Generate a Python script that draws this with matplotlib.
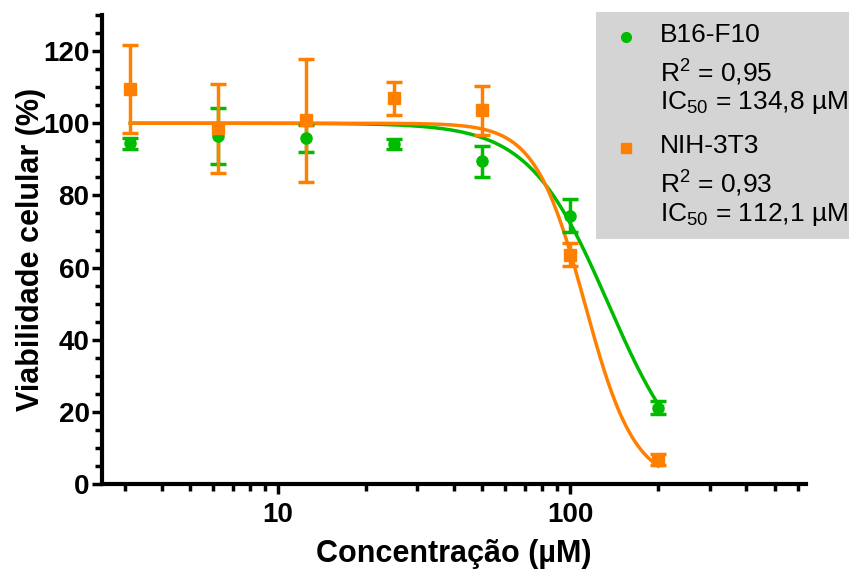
import numpy as np
import matplotlib
matplotlib.use("Agg")
import matplotlib.pyplot as plt
from matplotlib.patches import Rectangle
from matplotlib.lines import Line2D
from matplotlib.ticker import FixedLocator, MultipleLocator, NullFormatter

plt.rcParams['font.family'] = ['Liberation Sans', 'DejaVu Sans']
plt.rcParams['mathtext.fontset'] = 'custom'
plt.rcParams['mathtext.rm'] = 'Liberation Sans'
plt.rcParams['mathtext.it'] = 'Liberation Sans:italic'
plt.rcParams['mathtext.bf'] = 'Liberation Sans:bold'

# Data
conc = [3.125, 6.25, 12.5, 25, 50, 100, 200]
b16_mean = [94.4, 96.5, 95.8, 94.2, 89.4, 74.4, 21.1]
b16_err = [1.5, 7.8, 3.8, 1.3, 4.2, 4.6, 1.8]
nih_mean = [109.4, 98.6, 100.8, 106.9, 103.6, 63.6, 6.7]
nih_err = [12.2, 12.3, 17.0, 4.6, 6.8, 3.3, 1.5]
# Fit parameters (top, bottom, IC50, Hill slope)
b16_fit = dict(top=100.0, bottom=0.0, ic50=134.8, hill=3.2)
nih_fit = dict(top=100.0, bottom=0.0, ic50=112.1, hill=5.1)
b16_label = ["B16-F10", r"R$^2$ = 0,95", r"IC$_{50}$ = 134,8 µM"]
nih_label = ["NIH-3T3", r"R$^2$ = 0,93", r"IC$_{50}$ = 112,1 µM"]
yticks = [0, 20, 40, 60, 80, 100, 120]
xticks = [10, 100]

green = '#00bb00'
orange = '#ff8000'

W, H = 851, 572
fig = plt.figure(figsize=(W / 100, H / 100), dpi=100)
ax = fig.add_axes([102 / W, 1 - 484 / H, (806 - 102) / W, (484 - 15) / H])


def hill(x, p):
    return p['bottom'] + (p['top'] - p['bottom']) / (1 + (x / p['ic50']) ** p['hill'])


xs = np.logspace(np.log10(conc[0]), np.log10(conc[-1]), 400)
for mean, err, p, col, mk, ms in [(b16_mean, b16_err, b16_fit, green, 'o', 8),
                                   (nih_mean, nih_err, nih_fit, orange, 's', 8)]:
    ax.plot(xs, hill(xs, p), color=col, lw=2.5, zorder=2)
    ax.errorbar(conc, mean, yerr=err, fmt=mk, color=col, ms=ms, mec=col,
                elinewidth=2.5, capsize=6, capthick=2.5, zorder=3)

ax.set_xscale('log')
ax.set_xlim(2.5, 640)
ax.set_ylim(0, 130)
ax.xaxis.set_major_locator(FixedLocator(xticks))
ax.set_xticklabels([str(t) for t in xticks])
minors = [v * d for d in [1, 10, 100] for v in range(2, 10)]
minors = [m for m in minors if 2.5 <= m <= 640 and m not in xticks]
ax.xaxis.set_minor_locator(FixedLocator(minors))
ax.xaxis.set_minor_formatter(NullFormatter())
ax.yaxis.set_major_locator(FixedLocator(yticks))
ax.yaxis.set_minor_locator(MultipleLocator(5))

for s in ['top', 'right']:
    ax.spines[s].set_visible(False)
for s in ['left', 'bottom']:
    ax.spines[s].set_linewidth(3)
ax.tick_params(which='major', direction='out', length=7, width=2.5,
               labelsize=20)
ax.tick_params(which='minor', direction='out', length=5, width=2.5)
for lab in ax.get_xticklabels() + ax.get_yticklabels():
    lab.set_fontweight('bold')
ax.tick_params(axis='x', pad=6)
ax.tick_params(axis='y', pad=2)

ax.set_xlabel('Concentração (µM)', fontsize=22, fontweight='bold', labelpad=8)
ax.set_ylabel('Viabilidade celular (%)', fontsize=22, fontweight='bold', labelpad=-2)

# Legend box (figure coordinates in pixels)
fig.patches.append(Rectangle((596 / W, 1 - 239 / H), (849 - 596) / W, (239 - 12) / H,
                             transform=fig.transFigure, facecolor='#d4d4d4',
                             edgecolor='none', zorder=5))
fig.lines.append(Line2D([626 / W], [1 - 37 / H], marker='o', color=green, ms=7,
                        transform=fig.transFigure, zorder=6))
fig.lines.append(Line2D([626 / W], [1 - 148 / H], marker='s', color=orange, ms=7,
                        transform=fig.transFigure, zorder=6))
for lines, y0 in [(b16_label, 35), (nih_label, 146)]:
    for i, t in enumerate(lines):
        yy = y0 + [0, 38, 68][i]
        fig.text(660 / W, 1 - yy / H, t, fontsize=19, va='center', ha='left', zorder=7)

fig.savefig('out.png', dpi=100)
